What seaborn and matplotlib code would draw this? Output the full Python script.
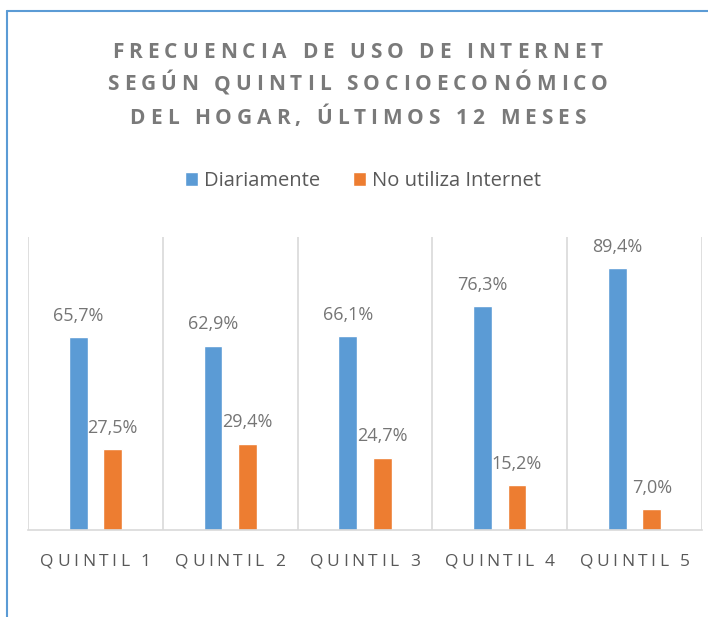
import matplotlib
matplotlib.use("Agg")
import matplotlib.pyplot as plt
from matplotlib.lines import Line2D
from matplotlib.text import Text
from matplotlib.transforms import IdentityTransform, blended_transform_factory
import seaborn as sns
import pandas as pd

categories = ["QUINTIL 1", "QUINTIL 2", "QUINTIL 3", "QUINTIL 4", "QUINTIL 5"]
series_names = ["Diariamente", "No utiliza Internet"]
diariamente = [65.7, 62.9, 66.1, 76.3, 89.4]
no_utiliza = [27.5, 29.4, 24.7, 15.2, 7.0]
title_text = "FRECUENCIA DE USO DE INTERNET\nSEGÚN QUINTIL SOCIOECONÓMICO\nDEL HOGAR, ÚLTIMOS 12 MESES"

colors = ["#5B9BD5", "#ED7D31"]


class TrackedText(Text):
    """Text drawn with extra letter spacing (tracking, in em)."""

    def __init__(self, x, y, text, tracking=0.0, pitch_px=None, **kw):
        super().__init__(x, y, text, **kw)
        self._tracking = tracking
        self._pitch_px = pitch_px

    def draw(self, renderer):
        if not self.get_visible() or not self.get_text():
            return
        prop = self.get_fontproperties()
        fs_px = renderer.points_to_pixels(self.get_fontsize())
        track = self._tracking * fs_px
        posx, posy = self.get_transform().transform(self.get_unitless_position())
        bbox, info, descent = self._get_layout(renderer)

        def w(s):
            return renderer.get_text_width_height_descent(s, prop, ismath=False)[0]

        ha = self.get_horizontalalignment()
        first_y = None
        for li, entry in enumerate(info):
            line, wh, lx, ly = entry[0], entry[1], entry[2], entry[3]
            lw = wh[0]
            n = len(line)
            total = w(line) + track * (n - 1)
            if ha == "center":
                xs = posx + lx + lw / 2 - total / 2
            elif ha == "right":
                xs = posx + lx + lw - total
            else:
                xs = posx + lx
            if first_y is None:
                first_y = posy + ly
            yb = posy + ly if self._pitch_px is None else first_y - li * self._pitch_px
            for i, ch in enumerate(line):
                if ch == " ":
                    continue
                pos = w(line[:i + 1]) - w(ch)
                t = Text(xs + pos + i * track, yb, ch, fontproperties=prop,
                         color=self.get_color(), ha="left", va="baseline",
                         transform=IdentityTransform())
                t.set_figure(self.figure)
                t.draw(renderer)
        self.stale = False


df = pd.DataFrame({
    "cat": categories * 2,
    "serie": [series_names[0]] * 5 + [series_names[1]] * 5,
    "valor": diariamente + no_utiliza,
})

sns.set_theme(style="white")
plt.rcParams["font.family"] = ["Open Sans", "DejaVu Sans"]

fig = plt.figure(figsize=(7.08, 6.17), dpi=100)
ax = fig.add_axes([28 / 708, 1 - 530 / 617, (702 - 28) / 708, (530 - 237) / 617])

sns.barplot(data=df, x="cat", y="valor", hue="serie", palette=colors,
            width=0.51, gap=0.45, ax=ax, saturation=1, legend=True)

ax.set_ylim(0, 100)
ax.set_xlim(-0.5, 4.5)
ax.set_xlabel("")
ax.set_ylabel("")
ax.set_yticks([])
for s in ["top", "right", "left"]:
    ax.spines[s].set_visible(False)
ax.spines["bottom"].set_color("#d9d9d9")
ax.spines["bottom"].set_linewidth(1.2)
for xv in [-0.5, 0.5, 1.5, 2.5, 3.5, 4.5]:
    ax.axvline(xv, color="#d9d9d9", lw=1.2, zorder=0)

ax.tick_params(axis="x", length=0, labelbottom=False)

# category labels with letter spacing
tick_tr = blended_transform_factory(ax.transData, ax.transAxes)
for i, cat in enumerate(categories):
    fig.add_artist(TrackedText(i, (530 - 565.5) / 293, cat, tracking=0.2,
                               transform=tick_tr, ha="center", fontsize=12.5,
                               color="#595959"))

for cont in ax.containers:
    vals = [b.get_height() for b in cont]
    ax.bar_label(cont, labels=[f"{v:.1f}%".replace(".", ",") for v in vals],
                 padding=9, fontsize=13, color="#757575")

handles, labels = ax.get_legend_handles_labels()
ax.get_legend().remove()
fig.legend(handles, labels, loc="center", bbox_to_anchor=(363 / 708, 1 - 181 / 617),
           ncol=2, frameon=False, fontsize=14.5, handlelength=0.65, handleheight=0.65,
           handletextpad=0.33, columnspacing=1.6, labelcolor="#595959")

fig.add_artist(TrackedText(0.505, 1 - 41.5 / 617, title_text, tracking=0.24,
                           pitch_px=33, transform=fig.transFigure,
                           ha="center", va="top", fontsize=15, fontweight="bold",
                           color="#7a7a7a", linespacing=1.6))

fig.add_artist(Line2D([7 / 708, 7 / 708], [0, 1 - 11 / 617], color="#5B9BD5", lw=1.5))
fig.add_artist(Line2D([7 / 708, 1], [1 - 11 / 617, 1 - 11 / 617], color="#5B9BD5", lw=1.5))

fig.savefig("out.png", dpi=100)
